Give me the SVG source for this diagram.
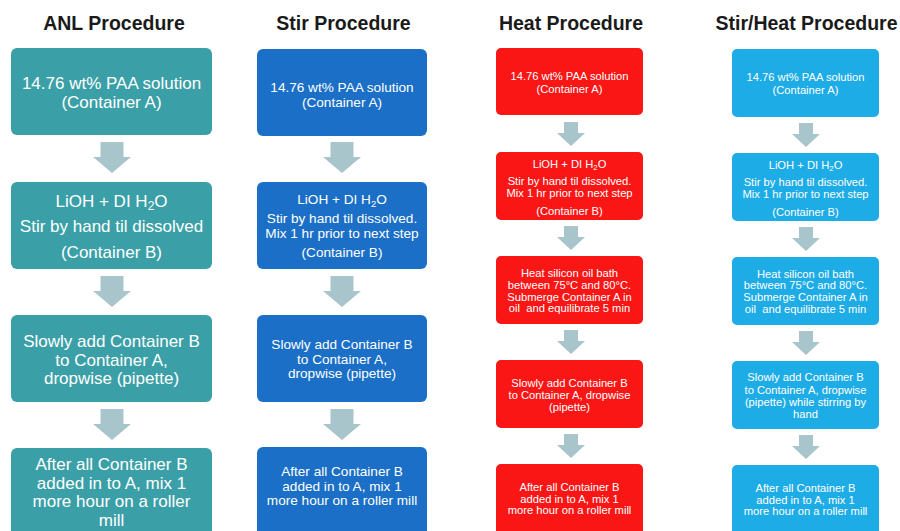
<svg xmlns="http://www.w3.org/2000/svg" width="900" height="531" viewBox="0 0 900 531">
<style>
.title{font-family:"Liberation Sans",Arial,sans-serif;font-weight:bold;font-size:19.5px;fill:#1a1a1a;text-anchor:middle}
.t{font-family:"Liberation Sans",Arial,sans-serif;fill:#ffffff;text-anchor:middle}
.c1 .t{font-size:17px}
.c2 .t{font-size:13.6px}
.c3 .t,.c4 .t{font-size:11.2px}
.anl{fill:#3b9fa7}
.stir{fill:#1b6fc6}
.heat{fill:#fb1616}
.sh{fill:#1eace6}
.arrow{fill:#a9c5cc}
.sub{font-size:70%}
</style>
<rect width="900" height="531" fill="#ffffff"/>
<g id="titles">
<text class="title" x="114" y="30">ANL Procedure</text>
<text class="title" x="343.5" y="30">Stir Procedure</text>
<text class="title" x="571" y="30">Heat Procedure</text>
<text class="title" x="806.5" y="30">Stir/Heat Procedure</text>
</g>
<g id="connectors">
<path class="arrow" d="M100.5,142h23v15h7.5l-19,16l-19,-16h7.5z"/>
<path class="arrow" d="M100.5,276h23v15h7.5l-19,16l-19,-16h7.5z"/>
<path class="arrow" d="M100.5,409h23v15h7.5l-19,16l-19,-16h7.5z"/>
<path class="arrow" d="M330.5,142h23v15h7.5l-19,16l-19,-16h7.5z"/>
<path class="arrow" d="M330.5,276h23v15h7.5l-19,16l-19,-16h7.5z"/>
<path class="arrow" d="M330.5,409h23v15h7.5l-19,16l-19,-16h7.5z"/>
<path class="arrow" d="M564,122h14v11h7l-14,13l-14,-13h7z"/>
<path class="arrow" d="M564,226h14v11h7l-14,13l-14,-13h7z"/>
<path class="arrow" d="M564,330h14v11h7l-14,13l-14,-13h7z"/>
<path class="arrow" d="M564,434h14v11h7l-14,13l-14,-13h7z"/>
<path class="arrow" d="M799,123h14v11h7l-14,13l-14,-13h7z"/>
<path class="arrow" d="M799,227h14v11h7l-14,13l-14,-13h7z"/>
<path class="arrow" d="M799,331h14v11h7l-14,13l-14,-13h7z"/>
<path class="arrow" d="M799,435h14v11h7l-14,13l-14,-13h7z"/>
</g>
<g class="c1">
<g id="anl1"><rect class="anl" x="11" y="48" width="201" height="87" rx="6"/>
<text class="t" x="111.5" y="89">14.76 wt% PAA solution</text><text class="t" x="111.5" y="108">(Container A)</text></g>
<g id="anl2"><rect class="anl" x="11" y="182" width="201" height="87" rx="6"/>
<text class="t" x="111.5" y="207">LiOH + DI H<tspan class="sub" dy="3">2</tspan><tspan dy="-3">O</tspan></text><text class="t" x="111.5" y="232">Stir by hand til dissolved</text><text class="t" x="111.5" y="258">(Container B)</text></g>
<g id="anl3"><rect class="anl" x="11" y="315" width="201" height="87" rx="6"/>
<text class="t" x="111.5" y="347">Slowly add Container B</text><text class="t" x="111.5" y="365.5">to Container A,</text><text class="t" x="111.5" y="384">dropwise (pipette)</text></g>
<g id="anl4"><rect class="anl" x="11" y="448" width="201" height="95" rx="6"/>
<text class="t" x="111.5" y="470">After all Container B</text><text class="t" x="111.5" y="488.5">added in to A, mix 1</text><text class="t" x="111.5" y="507">more hour on a roller</text><text class="t" x="111.5" y="525.5">mill</text></g>
</g>
<g class="c2">
<g id="stir1"><rect class="stir" x="257" y="49" width="170" height="87" rx="6"/>
<text class="t" x="342" y="92">14.76 wt% PAA solution</text><text class="t" x="342" y="106.5">(Container A)</text></g>
<g id="stir2"><rect class="stir" x="257" y="182" width="170" height="87" rx="6"/>
<text class="t" x="342" y="204">LiOH + DI H<tspan class="sub" dy="2.5">2</tspan><tspan dy="-2.5">O</tspan></text><text class="t" x="342" y="223">Stir by hand til dissolved.</text><text class="t" x="342" y="237.5">Mix 1 hr prior to next step</text><text class="t" x="342" y="257">(Container B)</text></g>
<g id="stir3"><rect class="stir" x="257" y="315" width="170" height="87" rx="6"/>
<text class="t" x="342" y="349">Slowly add Container B</text><text class="t" x="342" y="363.5">to Container A,</text><text class="t" x="342" y="378">dropwise (pipette)</text></g>
<g id="stir4"><rect class="stir" x="257" y="447" width="170" height="95" rx="6"/>
<text class="t" x="342" y="476">After all Container B</text><text class="t" x="342" y="490.5">added in to A, mix 1</text><text class="t" x="342" y="505">more hour on a roller mill</text></g>
</g>
<g class="c3">
<g id="heat1"><rect class="heat" x="496" y="48" width="147" height="67" rx="5"/>
<text class="t" x="569.5" y="80">14.76 wt% PAA solution</text><text class="t" x="569.5" y="93">(Container A)</text></g>
<g id="heat2"><rect class="heat" x="496" y="152" width="147" height="68" rx="5"/>
<text class="t" x="569.5" y="168">LiOH + DI H<tspan class="sub" dy="2">2</tspan><tspan dy="-2">O</tspan></text><text class="t" x="569.5" y="185">Stir by hand til dissolved.</text><text class="t" x="569.5" y="197">Mix 1 hr prior to next step</text><text class="t" x="569.5" y="215">(Container B)</text></g>
<g id="heat3"><rect class="heat" x="496" y="256" width="147" height="68" rx="5"/>
<text class="t" x="569.5" y="276.5">Heat silicon oil bath</text><text class="t" x="569.5" y="288.5">between 75°C and 80°C.</text><text class="t" x="569.5" y="300.5">Submerge Container A in</text><text class="t" x="569.5" y="312" xml:space="preserve">oil  and equilibrate 5 min</text></g>
<g id="heat4"><rect class="heat" x="496" y="360" width="147" height="68" rx="5"/>
<text class="t" x="569.5" y="387">Slowly add Container B</text><text class="t" x="569.5" y="399">to Container A, dropwise</text><text class="t" x="569.5" y="411">(pipette)</text></g>
<g id="heat5"><rect class="heat" x="496" y="464" width="147" height="78" rx="5"/>
<text class="t" x="569.5" y="491">After all Container B</text><text class="t" x="569.5" y="502.5">added in to A, mix 1</text><text class="t" x="569.5" y="514">more hour on a roller mill</text></g>
</g>
<g class="c4">
<g id="sh1"><rect class="sh" x="732" y="49" width="147" height="68" rx="5"/>
<text class="t" x="805.5" y="81">14.76 wt% PAA solution</text><text class="t" x="805.5" y="94">(Container A)</text></g>
<g id="sh2"><rect class="sh" x="732" y="153" width="147" height="68" rx="5"/>
<text class="t" x="805.5" y="169">LiOH + DI H<tspan class="sub" dy="2">2</tspan><tspan dy="-2">O</tspan></text><text class="t" x="805.5" y="185.5">Stir by hand til dissolved.</text><text class="t" x="805.5" y="197.5">Mix 1 hr prior to next step</text><text class="t" x="805.5" y="215.5">(Container B)</text></g>
<g id="sh3"><rect class="sh" x="732" y="257" width="147" height="68" rx="5"/>
<text class="t" x="805.5" y="277.5">Heat silicon oil bath</text><text class="t" x="805.5" y="289">between 75°C and 80°C.</text><text class="t" x="805.5" y="301">Submerge Container A in</text><text class="t" x="805.5" y="312.5" xml:space="preserve">oil  and equilibrate 5 min</text></g>
<g id="sh4"><rect class="sh" x="732" y="361" width="147" height="68" rx="5"/>
<text class="t" x="805.5" y="381">Slowly add Container B</text><text class="t" x="805.5" y="393.5">to Container A, dropwise</text><text class="t" x="805.5" y="405.5">(pipette) while stirring by</text><text class="t" x="805.5" y="417.5">hand</text></g>
<g id="sh5"><rect class="sh" x="732" y="465" width="147" height="78" rx="5"/>
<text class="t" x="805.5" y="492">After all Container B</text><text class="t" x="805.5" y="503.5">added in to A, mix 1</text><text class="t" x="805.5" y="515">more hour on a roller mill</text></g>
</g>
</svg>
